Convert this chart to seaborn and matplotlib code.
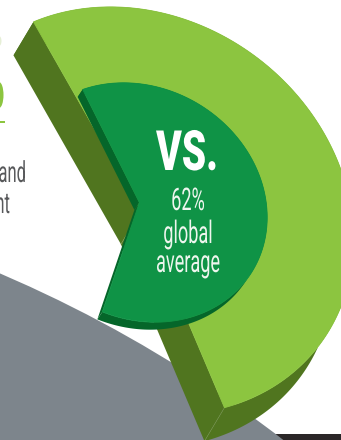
import numpy as np
import matplotlib
matplotlib.use("Agg")
import matplotlib.pyplot as plt
import seaborn as sns
from matplotlib.patches import Circle, Ellipse, Polygon, Rectangle
from matplotlib.patheffects import AbstractPathEffect
from matplotlib.transforms import Affine2D

# Shares shown by the two stacked slices
outer_share = 0.52
inner_share = 0.62

# Caption lines
headline = "VS."
caption_lines = ["62%", "global", "average"]
side_lines = ["and", "nt"]

# Palette
LIME_TOP, LIME_SIDE = "#8cc540", "#50751f"
LEAF_TOP, LEAF_SIDE = "#0f9346", "#05662a"
SLATE, INK, COPY = "#7d858c", "#2b2728", "#58595b"

sns.set_theme(style="white", rc={"font.family": ["Roboto", "DejaVu Sans"]})

fig = plt.figure(figsize=(3.41, 4.40), dpi=100, facecolor="white")
ax = fig.add_axes([0, 0, 1, 1])
ax.set_xlim(0, 341)
ax.set_ylim(440, 0)
ax.set_axis_off()


class Condense(AbstractPathEffect):
    """Squeeze a text run horizontally about a fixed display x."""

    def __init__(self, factor, x0):
        super().__init__()
        self.factor, self.x0 = factor, x0

    def draw_path(self, renderer, gc, tpath, affine, rgbFace=None):
        squeeze = Affine2D().translate(-self.x0, 0).scale(self.factor, 1).translate(self.x0, 0)
        renderer.draw_path(gc, tpath, affine + squeeze, rgbFace)


def label(x, y, s, size, factor, color, ha="center", weight="normal"):
    x0 = ax.transData.transform((x, y))[0]
    ax.text(x, y, s, fontsize=size, color=color, ha=ha, va="baseline", fontweight=weight,
            path_effects=[Condense(factor, x0)], zorder=10)


def slice_arc(center, radii, tilt, start, share, n=240):
    """Rim of a pie slice seen in perspective: a tilted ellipse swept by its share."""
    t = np.radians(start + np.linspace(0, 360 * share, n))
    phi = np.radians(tilt)
    a, b = radii[0] * np.cos(t), radii[1] * np.sin(t)
    return np.column_stack([center[0] + a * np.cos(phi) - b * np.sin(phi),
                            center[1] + a * np.sin(phi) + b * np.cos(phi)])


def slab(center, radii, tilt, start, share, depth, top, side, z):
    arc = slice_arc(center, radii, tilt, start, share)
    c, d = np.array(center, float), np.array(depth, float)
    for edge in (arc[0], arc[-1]):
        ax.add_patch(Polygon([c, edge, edge + d, c + d], fc=side, ec="none", zorder=z))
    ax.add_patch(Polygon(np.vstack([arc, (arc + d)[::-1]]), fc=side, ec="none", zorder=z))
    ax.add_patch(Polygon(np.vstack([c, arc]), fc=top, ec=top, lw=0.6, zorder=z + 1))
    return arc, c, d


# Background shapes
ax.add_patch(Rectangle((255, 434), 90, 8, fc=INK, ec="none", zorder=1))
ax.add_patch(Circle((-510, 1466), 1297, fc=SLATE, ec="none", zorder=2))

# Fragments of the neighbouring heading, cut by the left edge
ax.add_patch(Ellipse((-1, 41), 5, 10, fc="#e6efd6", ec="none", zorder=2))
ax.add_patch(Ellipse((-1, 95), 9, 26, fc="#8cc540", ec="none", zorder=2))
ax.add_patch(Rectangle((-1, 121), 6, 1.6, fc="#8cc540", ec="none", zorder=2))

# Two stacked slices
arc, c, d = slab((140.9, 210.7), (223.3, 192.1), 36.7, -153, outer_share,
                 (-20, 33.5), LIME_TOP, LIME_SIDE, 3)
ax.plot(*np.array([arc[-1], arc[-1] + d]).T, color="#7b9a52", lw=0.4, zorder=3.5)
ax.plot(*np.array([c, c + d]).T, color="#7b9a52", lw=0.4, zorder=3.5)
slab((139.4, 202.5), (132.2, 114.8), 31.1, -144, inner_share,
     (-5, 7.5), LEAF_TOP, LEAF_SIDE, 6)

# Captions
label(187, 170, headline, 40, 0.70, "white", weight="black")
for text, baseline in zip(caption_lines, (210, 243, 272)):
    label(188, baseline, text, 22.5, 0.58, "#eef6ee")
label(26, 182, side_lines[0], 21, 0.57, COPY, ha="right")
label(10, 213, side_lines[1], 21, 0.57, COPY, ha="right")

fig.savefig("out.png", dpi=100)
